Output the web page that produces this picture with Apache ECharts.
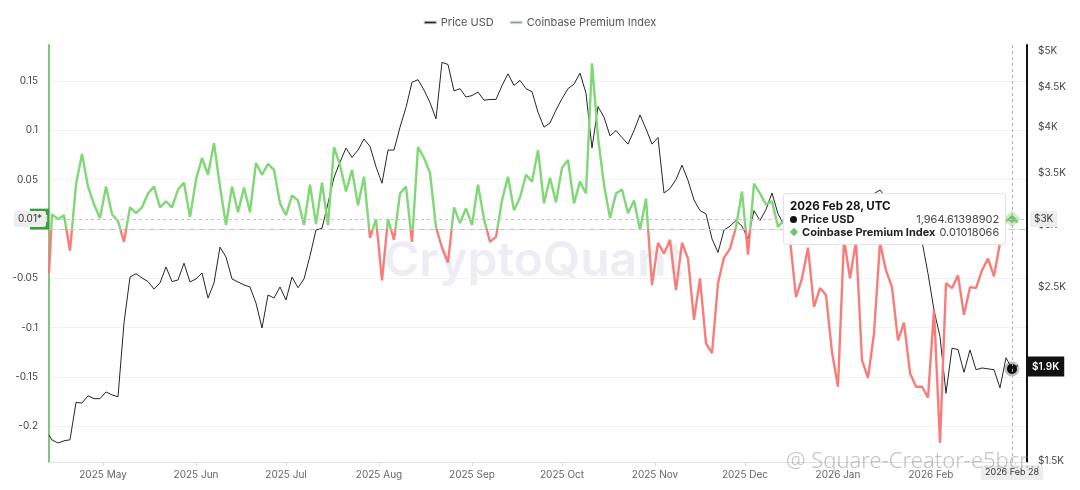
<!DOCTYPE html>
<html>
<head>
<meta charset="utf-8">
<script src="https://cdn.jsdelivr.net/npm/echarts@6/dist/echarts.min.js"></script>
<style>
html,body{margin:0;padding:0;background:#fff}
#c{width:1080px;height:490px}
</style>
</head>
<body>
<div id="c"></div>
<script>
// ---- data (one value every 2 days after 2025-04-13) ----
const firstDate = '2025-04-13';
const stepStart = '2025-04-14';
const stepDays = 2;

const premium = [
  -0.045,
  0.015, 0.010, 0.014, -0.022, 0.045, 0.076, 0.043, 0.025, 0.011, 0.043,
  0.015, 0.008, -0.013, 0.022, 0.016, 0.022, 0.036, 0.043, 0.022, 0.028,
  0.022, 0.040, 0.047, 0.012, 0.050, 0.072, 0.055, 0.087, 0.043, 0.004,
  0.043, 0.017, 0.042, 0.017, 0.067, 0.055, 0.066, 0.060, 0.026, 0.014,
  0.034, 0.029, 0.004, 0.045, 0.005, 0.047, 0.004, 0.083, 0.065, 0.038,
  0.060, 0.024, 0.053, -0.009, 0.010, -0.052, 0.010, -0.011, 0.036, 0.043,
  -0.013, 0.083, 0.072, 0.057, 0.002, -0.019, -0.034, 0.022, 0.006, 0.021,
  0.004, 0.045, 0.010, -0.013, -0.008, 0.029, 0.053, 0.019, 0.032, 0.055,
  0.048, 0.080, 0.026, 0.052, 0.027, 0.062, 0.070, 0.026, 0.048, 0.036,
  0.168, 0.093, 0.045, 0.011, 0.036, 0.040, 0.016, 0.029, -0.001, 0.031,
  -0.057, -0.014, -0.025, -0.011, -0.062, -0.014, -0.030, -0.092, -0.050, -0.116,
  -0.126, -0.055, -0.029, -0.020, 0.002, 0.038, -0.026, 0.046, 0.036, 0.025,
  0.028, 0.002, 0.009, -0.011, -0.069, -0.050, -0.019, -0.079, -0.060, -0.067,
  -0.125, -0.160, -0.010, -0.050, -0.012, -0.133, -0.151, -0.106, -0.014, -0.042,
  -0.059, -0.113, -0.095, -0.146, -0.160, -0.160, -0.171, -0.082, -0.217, -0.055,
  -0.060, -0.047, -0.087, -0.059, -0.060, -0.042, -0.030, -0.048, -0.014, 0.009,
  0.01018066, 0.007
];

const price = [
  1617,
  1594, 1580, 1590, 1595, 1780, 1777, 1815, 1800, 1800, 1836,
  1820, 1810, 2250, 2574, 2600, 2567, 2540, 2485, 2530, 2652,
  2540, 2552, 2681, 2537, 2560, 2605, 2420, 2530, 2811, 2730,
  2560, 2537, 2515, 2500, 2384, 2216, 2442, 2420, 2500, 2406,
  2574, 2495, 2560, 2740, 2956, 2970, 3199, 3450, 3610, 3762,
  3660, 3740, 3863, 3780, 3560, 3392, 3740, 3740, 4000, 4240,
  4565, 4600, 4462, 4300, 4100, 4841, 4810, 4450, 4480, 4371,
  4390, 4436, 4330, 4340, 4340, 4520, 4680, 4523, 4590, 4480,
  4440, 4180, 4000, 4050, 4207, 4350, 4480, 4540, 4690, 4420,
  3762, 4250, 4120, 3900, 3960, 3880, 3806, 3960, 4146, 3980,
  3806, 3880, 3296, 3340, 3430, 3578, 3420, 3229, 3130, 3100,
  2880, 2767, 2956, 2990, 3040, 2990, 2878, 3130, 3040, 3140,
  3296, 3100, 3000, 2950, 3050, 3100, 3000, 2950, 2980, 2940,
  2980, 2960, 3050, 3100, 3150, 3200, 3250, 3290, 3325, 3250,
  3200, 3150, 3050, 2850, 2960, 2860, 2600, 2336, 2160, 1829,
  2088, 2080, 1945, 2077, 1960, 1970, 1965, 1960, 1858, 2030,
  1964.61398902, 1985
];

const monthTicks = ['2025-05-01','2025-06-01','2025-07-01','2025-08-01','2025-09-01','2025-10-01',
                    '2025-11-01','2025-12-01','2026-01-01','2026-02-01','2026-03-01'];
const premiumTicks = [-0.2, -0.15, -0.1, -0.05, 0, 0.05, 0.1, 0.15];
const premiumLabels = [-0.2, -0.15, -0.1, -0.05, 0.05, 0.1, 0.15];
const priceTicks = [1500, 2000, 2500, 3000, 3500, 4000, 4500, 5000];

const seriesNames = ['Price USD', 'Coinbase Premium Index'];
const focusDate = '2026-02-28';

// ---- build ----
const MON = ['Jan','Feb','Mar','Apr','May','Jun','Jul','Aug','Sep','Oct','Nov','Dec'];
const DAY = 86400000;
const t0 = Date.parse(firstDate);
const t1 = Date.parse(stepStart);
const dates = premium.map((_, i) => i === 0 ? t0 : t1 + (i - 1) * stepDays * DAY);
const monthTs = monthTicks.map(s => Date.parse(s));

const GREEN = '#74c46b';
const RED = '#e2726f';
const PURPLE = '#8d86d9';
const FONT = 'Inter, "Noto Sans", sans-serif';

function fmtK(p) {
  const k = Math.floor(p / 100 + 1e-6) / 10;
  return '$' + (k % 1 === 0 ? k.toFixed(0) : k.toFixed(1)) + 'K';
}
function fmtMonth(v) {
  const d = new Date(v);
  return d.getUTCFullYear() + ' ' + MON[d.getUTCMonth()];
}
function fmtDay(v) {
  const d = new Date(v);
  return d.getUTCFullYear() + ' ' + MON[d.getUTCMonth()] + ' ' + String(d.getUTCDate()).padStart(2, '0');
}

const pointerLabel = {
  backgroundColor: '#ededed', color: '#333', fontSize: 10, fontFamily: FONT,
  padding: [3, 4], borderRadius: 2
};
const hiddenLine = { width: 0, color: 'rgba(0,0,0,0)' };

const chart = echarts.init(document.getElementById('c'), null, { renderer: 'canvas' });

const lastP = premium.length - 1;

const option = {
  animation: false,
  textStyle: { fontFamily: FONT },
  grid: { left: 49, right: 53, top: 45, bottom: 28 },
  legend: {
    top: 12,
    left: 'center',
    icon: 'rect',
    itemWidth: 11,
    itemHeight: 1.4,
    itemGap: 16,
    textStyle: { color: '#555', fontSize: 11, fontFamily: FONT },
    data: [
      { name: seriesNames[0], itemStyle: { color: '#333' }, lineStyle: { color: '#333' } },
      { name: seriesNames[1], itemStyle: { color: PURPLE }, lineStyle: { color: PURPLE } }
    ]
  },
  tooltip: {
    trigger: 'axis',
    triggerOn: 'none',
    alwaysShowContent: true,
    transitionDuration: 0,
    backgroundColor: '#fff',
    borderColor: '#e2e2e2',
    borderWidth: 1,
    padding: [5, 6],
    extraCssText: 'box-shadow:none;border-radius:3px;',
    position: function () { return [783, 193]; },
    axisPointer: {
      type: 'cross',
      lineStyle: { color: '#b0b0b0', type: [3, 3], width: 1 },
      crossStyle: { color: '#c4c4c4', type: [3, 3], width: 1 },
      label: pointerLabel
    },
    formatter: function (params) {
      const i = params[0].dataIndex;
      const f = 'font-family:Inter,\'Noto Sans\',sans-serif;';
      const row = (marker, name, val) =>
        '<div style="' + f + 'display:flex;justify-content:space-between;font-size:11px;line-height:13px;color:#222">' +
        '<span style="font-weight:700">' + marker + name + '</span>' +
        '<span style="margin-left:4px;color:#444">' + val + '</span></div>';
      const dot = '<span style="display:inline-block;width:7px;height:7px;border-radius:50%;background:#111;margin-right:4px"></span>';
      const dia = '<span style="display:inline-block;width:6px;height:6px;background:' + GREEN + ';transform:rotate(45deg);margin:0 5px 1px 1px"></span>';
      return '<div style="min-width:206px">' +
        '<div style="' + f + 'font-weight:700;font-size:11.5px;line-height:14px;color:#111">' + fmtDay(dates[i]) + ', UTC</div>' +
        row(dot, seriesNames[0], price[i].toLocaleString('en-US', { maximumFractionDigits: 8 })) +
        row(dia, seriesNames[1], String(premium[i])) +
        '</div>';
    }
  },
  visualMap: {
    type: 'piecewise',
    show: false,
    seriesIndex: 1,
    dimension: 1,
    pieces: [
      { gt: 0, lte: 1, color: GREEN },
      { gt: -1, lte: 0, color: RED }
    ],
    outOfRange: { color: GREEN }
  },
  xAxis: {
    type: 'value',
    min: t0,
    max: Date.parse('2026-03-05'),
    axisLine: { onZero: false, lineStyle: { color: '#e2e2e2' } },
    axisTick: { show: true, customValues: monthTs, length: 4, lineStyle: { color: '#dcdcdc' } },
    axisLabel: { customValues: monthTs, formatter: fmtMonth, color: '#666', fontSize: 10, margin: 8, fontFamily: FONT },
    splitLine: { show: false },
    axisPointer: { label: Object.assign({}, pointerLabel, { formatter: p => fmtDay(p.value), fontSize: 9 }) }
  },
  yAxis: [
    {
      type: 'value',
      position: 'left',
      min: -0.2363,
      max: 0.1866,
      axisLine: { show: true, lineStyle: { color: '#80c878', width: 2 } },
      axisTick: { show: false, customValues: premiumTicks },
      axisLabel: { customValues: premiumLabels, color: '#444', fontSize: 10, margin: 11, fontFamily: FONT },
      splitLine: { show: true, lineStyle: { color: '#f2f2f2' } },
      axisPointer: { label: Object.assign({}, pointerLabel, { formatter: p => p.value.toFixed(2) + '*' }) }
    },
    {
      type: 'value',
      position: 'right',
      min: Math.log(1494),
      max: Math.log(5094),
      axisLine: { show: true, lineStyle: { color: '#111', width: 2 } },
      axisTick: { show: false, customValues: priceTicks.map(Math.log) },
      axisLabel: { customValues: priceTicks.map(Math.log), formatter: v => fmtK(Math.exp(v)), color: '#444', fontSize: 10, margin: 11, fontFamily: FONT },
      splitLine: { show: false },
      axisPointer: { label: Object.assign({}, pointerLabel, { formatter: p => fmtK(Math.exp(p.value)) }) }
    }
  ],
  graphic: [
    {
      type: 'text', left: 384, top: 238, z: 0, silent: true,
      style: { text: 'CryptoQuant', fontSize: 48, fontWeight: 600, fontFamily: FONT, fill: '#eceef3' }
    },
    {
      type: 'text', left: 786, top: 451, z: 100, silent: true,
      style: { text: '@ Square-Creator-e5bcr...', fontSize: 22, fontWeight: 300, fontFamily: '"Noto Sans", sans-serif', fill: 'rgba(120,120,120,0.45)' }
    }
  ],
  series: [
    {
      name: seriesNames[0],
      type: 'line',
      yAxisIndex: 1,
      showSymbol: false,
      symbol: 'circle',
      symbolSize: 10,
      color: '#222',
      lineStyle: { color: '#222', width: 1 },
      itemStyle: { color: '#111', borderColor: 'rgba(0,0,0,0.25)', borderWidth: 5 },
      emphasis: { scale: false, lineStyle: { width: 1 } },
      data: price.map((p, i) => [dates[i], Math.log(p)]),
      markLine: {
        silent: true,
        symbol: ['none', 'none'],
        animation: false,
        data: [{
          yAxis: Math.log(price[lastP]),
          lineStyle: hiddenLine,
          label: {
            show: true, position: 'end', distance: 0,
            formatter: () => fmtK(price[lastP]),
            backgroundColor: '#111', color: '#fff', fontSize: 10, fontWeight: 600,
            padding: [5, 5], fontFamily: FONT
          }
        }]
      }
    },
    {
      name: seriesNames[1],
      type: 'line',
      yAxisIndex: 0,
      showSymbol: false,
      symbol: 'diamond',
      symbolSize: 9,
      color: PURPLE,
      lineStyle: { width: 2.4 },
      itemStyle: { borderColor: 'rgba(116,196,107,0.35)', borderWidth: 6 },
      emphasis: { scale: false, lineStyle: { width: 2.4 } },
      data: premium.map((v, i) => [dates[i], v]),
      markLine: {
        silent: true,
        symbol: ['none', 'none'],
        animation: false,
        data: [
          { yAxis: 0, lineStyle: { color: '#c6c6c6', type: [6, 4], width: 1 }, label: { show: false } },
          {
            yAxis: premium[lastP],
            lineStyle: hiddenLine,
            label: {
              show: true, position: 'start', distance: 0,
              formatter: () => premium[lastP].toFixed(2),
              backgroundColor: '#3e9d3e', color: '#fff', fontSize: 9,
              padding: [5, 1, 7, 1], fontFamily: FONT
            }
          }
        ]
      }
    }
  ]
};

chart.setOption(option);

const fi = dates.indexOf(Date.parse(focusDate));
const px = chart.convertToPixel({ xAxisIndex: 0 }, dates[fi]);
const py = chart.convertToPixel({ yAxisIndex: 0 }, premium[fi]);
setTimeout(function () {
  chart.dispatchAction({ type: 'showTip', x: px, y: py });
}, 50);
</script>
</body>
</html>
